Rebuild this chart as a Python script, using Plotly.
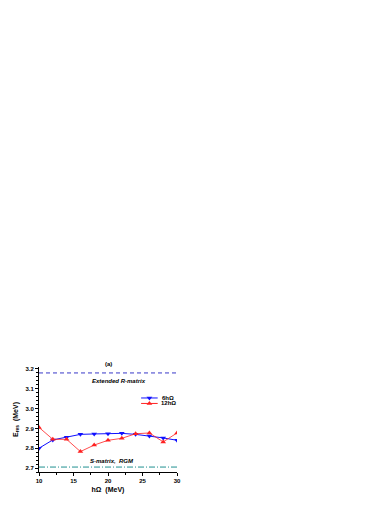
import plotly.graph_objects as go

# hbar-omega values (MeV)
HW = [10, 12, 14, 16, 18, 20, 22, 24, 26, 28, 30]
E_6HW = [2.800, 2.842, 2.856, 2.870, 2.872, 2.873, 2.875, 2.870, 2.862, 2.852, 2.840]
E_12HW = [2.905, 2.845, 2.845, 2.783, 2.816, 2.840, 2.850, 2.873, 2.877, 2.832, 2.877]

E_RMATRIX = 3.18
E_SMATRIX = 2.705

Y_TICKS = [2.7, 2.8, 2.9, 3.0, 3.1, 3.2]
X_TICKS = [10, 15, 20, 25, 30]

FONT = "Liberation Sans, Arial, sans-serif"
BLUE = "#1010ff"
RED = "#ff2020"

fig = go.Figure()

fig.add_trace(go.Scatter(
    x=[HW[0], HW[-1]], y=[E_RMATRIX, E_RMATRIX], mode="lines",
    line=dict(color="#3838c8", width=1, dash="4px,3px"),
    showlegend=False, hoverinfo="skip"))
fig.add_trace(go.Scatter(
    x=[HW[0], HW[-1]], y=[E_SMATRIX, E_SMATRIX], mode="lines",
    line=dict(color="#209090", width=1, dash="6px,2px,1px,2px"),
    showlegend=False, hoverinfo="skip"))

fig.add_trace(go.Scatter(
    x=HW, y=E_6HW, mode="lines+markers", name="6hΩ",
    line=dict(color=BLUE, width=1),
    marker=dict(symbol="triangle-down", size=5, color=BLUE), showlegend=False))
fig.add_trace(go.Scatter(
    x=HW, y=E_12HW, mode="lines+markers", name="12hΩ",
    line=dict(color=RED, width=0.8),
    marker=dict(symbol="triangle-up", size=5, color=RED), showlegend=False))

# hand-made legend on an invisible overlay axis (0..1 in plot area)
legend_rows = [("6hΩ", BLUE, "triangle-down", 0.705), ("12hΩ", RED, "triangle-up", 0.653)]
for label, col, sym, yy in legend_rows:
    fig.add_trace(go.Scatter(
        x=[0.74, 0.80, 0.86], y=[yy, yy, yy], mode="lines+markers",
        line=dict(color=col, width=1),
        marker=dict(symbol=sym, size=5, color=col, opacity=[0, 1, 0]),
        xaxis="x2", yaxis="y2", showlegend=False, hoverinfo="skip"))
    fig.add_annotation(x=0.935, y=yy, xref="x2", yref="y2", text=f"<b>{label}</b>",
                       showarrow=False, font=dict(size=6, color="black", family=FONT))

fig.add_annotation(x=21.6, y=E_RMATRIX, yshift=-8, text="<b><i>Extended R-matrix</i></b>",
                   showarrow=False, font=dict(size=6, color="black", family=FONT))
fig.add_annotation(x=20.6, y=E_SMATRIX, yshift=6, text="<b><i>S-matrix,  RGM</i></b>",
                   showarrow=False, font=dict(size=6, color="black", family=FONT))
fig.add_annotation(x=0.5, y=1.0, xref="paper", yref="paper", yshift=8, text="<b>(a)</b>",
                   showarrow=False, font=dict(size=6, color="black", family=FONT))

axis_common = dict(
    showline=True, linecolor="black", linewidth=1, mirror=False,
    ticks="outside", ticklen=3, tickwidth=1, tickcolor="black",
    showgrid=False, zeroline=False, automargin=False,
    tickfont=dict(size=6, family=FONT, color="black"),
)

# the page body adds an 8px offset, margins below allow for it
fig.update_layout(
    width=390, height=505,
    paper_bgcolor="white", plot_bgcolor="white",
    margin=dict(l=31, r=221, t=359, b=41),
    font=dict(family=FONT, size=6, color="black"),
    xaxis=dict(range=[10, 30], tickvals=X_TICKS, ticktext=[f"<b>{v}</b>" for v in X_TICKS],
               minor=dict(dtick=2.5, tick0=10, ticks="outside", ticklen=2, tickcolor="black"),
               title=dict(text="<b>hΩ  (MeV)</b>", font=dict(size=7, family=FONT), standoff=3),
               **axis_common),
    yaxis=dict(range=[2.68, 3.21], tickvals=Y_TICKS, ticktext=[f"<b>{v:.1f}</b>" for v in Y_TICKS],
               minor=dict(dtick=0.02, tick0=2.7, ticks="outside", ticklen=2, tickcolor="black"),
               title=dict(text="<b>E<sub>res</sub>  (MeV)</b>", font=dict(size=7, family=FONT), standoff=6),
               **axis_common),
    xaxis2=dict(range=[0, 1], overlaying="x", visible=False, fixedrange=True),
    yaxis2=dict(range=[0, 1], overlaying="y", visible=False, fixedrange=True),
    showlegend=False,
)

fig.write_html("out.html")
